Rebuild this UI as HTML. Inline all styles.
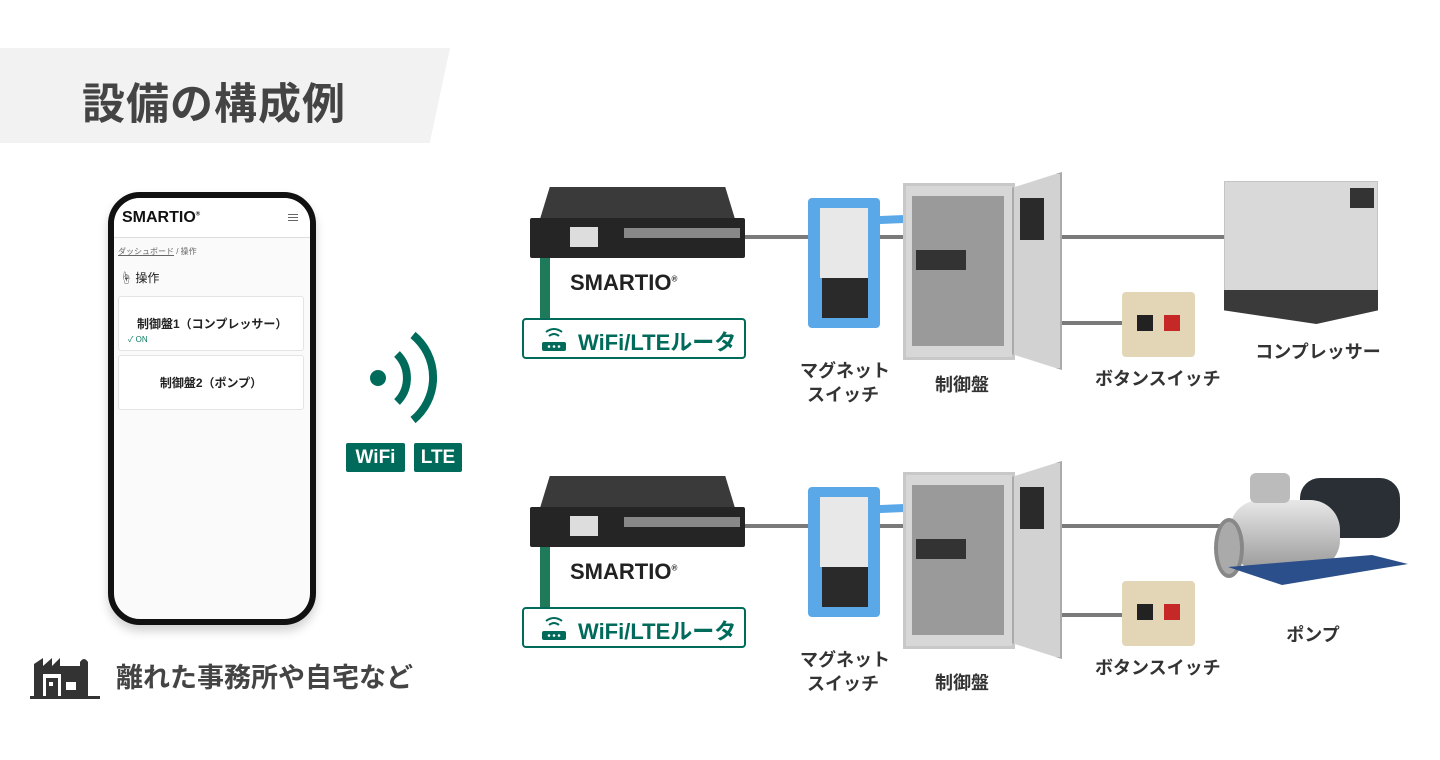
<!DOCTYPE html>
<html><head><meta charset="utf-8"><style>
*{margin:0;padding:0;box-sizing:border-box}
body{width:1440px;height:760px;background:#fff;position:relative;overflow:hidden;font-family:"Liberation Sans","Noto Sans CJK JP",sans-serif}
.a{position:absolute}
.lbl{position:absolute;font-weight:bold;font-size:18px;color:#333;text-align:center;white-space:nowrap;line-height:24px}
.g{background:#7a7a7a;height:4px;position:absolute}
.row{position:absolute;left:0;top:0;width:1440px;height:380px}
</style></head><body>
<div class="a" style="left:0;top:48px;width:450px;height:95px;background:#f2f2f2;clip-path:polygon(0 0,100% 0,95.5% 100%,0 100%)"></div>
<div class="a" style="left:82px;top:70px;font-size:43px;font-weight:bold;color:#444;letter-spacing:1px">設備の構成例</div>

<!-- phone -->
<div class="a" style="left:108px;top:192px;width:208px;height:433px;border:6px solid #111;border-radius:32px;background:#fafafa;box-shadow:0 6px 10px rgba(0,0,0,.18);overflow:hidden">
 <div style="background:#fff;height:40px;border-bottom:1px solid #ddd;position:relative">
  <div class="a" style="left:8px;top:11px;font-weight:900;font-size:16px;color:#111">SMARTIO<sup style="font-size:6px">®</sup></div>
  <div class="a" style="right:12px;top:16px;width:10px;height:7px;border-top:1px solid #666;border-bottom:1px solid #666"></div>
  <div class="a" style="right:12px;top:19px;width:10px;height:1px;background:#666"></div>
 </div>
 <div class="a" style="left:4px;top:48px;font-size:8px;color:#666"><u>ダッシュボード</u> / 操作</div>
 <div class="a" style="left:6px;top:71px;font-size:12px;color:#222">☝ 操作</div>
 <div class="a" style="left:4px;top:98px;width:186px;height:55px;background:#fff;border:1px solid #e4e4e4;border-radius:3px">
  <div class="a" style="left:18px;top:18px;font-size:12px;font-weight:bold;color:#222;white-space:nowrap">制御盤1（コンプレッサー）</div>
  <div class="a" style="left:9px;top:37px;font-size:8px;color:#0a7a60">✓ ON</div>
 </div>
 <div class="a" style="left:4px;top:157px;width:186px;height:55px;background:#fff;border:1px solid #e4e4e4;border-radius:3px">
  <div style="text-align:center;margin-top:18px;font-size:12px;font-weight:bold;color:#222">制御盤2（ポンプ）</div>
 </div>
</div>

<!-- wifi -->
<svg class="a" style="left:360px;top:330px" width="90" height="100">
 <circle cx="18" cy="48" r="8" fill="#006b5a"/>
 <path d="M37 24 A34 34 0 0 1 37 72" stroke="#006b5a" stroke-width="8" fill="none"/>
 <path d="M53 5 A55 55 0 0 1 53 90" stroke="#006b5a" stroke-width="8" fill="none"/>
</svg>
<div class="a" style="left:346px;top:443px;width:59px;height:29px;background:#006b5a;color:#fff;font-weight:bold;font-size:19px;text-align:center;line-height:29px;border-radius:2px">WiFi</div>
<div class="a" style="left:414px;top:443px;width:48px;height:29px;background:#006b5a;color:#fff;font-weight:bold;font-size:19px;text-align:center;line-height:29px;border-radius:2px">LTE</div>

<!-- factory -->
<svg class="a" style="left:30px;top:652px" width="70" height="48">
 <path d="M4 44 V12 L13 6 V14 L22 6 V14 L30 6 V14 H50 V10 Q54 4 58 10 V44 Z" fill="#333"/>
 <rect x="13" y="22" width="18" height="22" fill="#fff"/><rect x="16" y="26" width="12" height="18" fill="#333"/><rect x="19" y="30" width="4" height="4" fill="#fff"/>
 <rect x="36" y="30" width="10" height="8" fill="#fff"/>
 <rect x="0" y="44" width="70" height="3" fill="#333"/>
</svg>
<div class="a" style="left:116px;top:656px;font-size:27px;font-weight:bold;color:#444">離れた事務所や自宅など</div>

<!-- row template -->
<div class="row" style="top:0">
 <div class="g" style="left:740px;top:235px;width:170px"></div>
 <div class="g" style="left:1060px;top:235px;width:165px"></div>
 <div class="g" style="left:1060px;top:321px;width:62px"></div>
 <div class="a" style="left:540px;top:187px;width:195px;height:32px;background:#3a3a3a;clip-path:polygon(5% 0,95% 0,100% 100%,0 100%)"></div>
 <div class="a" style="left:530px;top:218px;width:215px;height:40px;background:#252525;border-radius:2px"></div>
 <div class="a" style="left:570px;top:227px;width:28px;height:20px;background:#ddd"></div>
 <div class="a" style="left:624px;top:228px;width:116px;height:10px;background:#888"></div>
 <div class="a" style="left:540px;top:258px;width:10px;height:60px;background:#1f7a5a"></div>
 <div class="a" style="left:570px;top:270px;font-size:22px;font-weight:900;color:#222">SMARTIO<sup style="font-size:8px">®</sup></div>
 <div class="a" style="left:522px;top:318px;width:224px;height:41px;border:2px solid #006b5a;border-radius:4px;background:#fff">
  <svg class="a" style="left:14px;top:4px" width="32" height="30"><path d="M8 8 Q16 2 24 8 M11 12 Q16 8 21 12" stroke="#006b5a" stroke-width="2" fill="none"/><rect x="4" y="18" width="24" height="9" rx="2" fill="#006b5a"/><circle cx="11" cy="22.5" r="1.3" fill="#fff"/><circle cx="16" cy="22.5" r="1.3" fill="#fff"/><circle cx="21" cy="22.5" r="1.3" fill="#fff"/></svg>
  <div class="a" style="left:54px;top:5px;font-size:22px;font-weight:bold;color:#006b5a;white-space:nowrap">WiFi/LTEルータ</div>
 </div>
 <div class="a" style="left:808px;top:198px;width:72px;height:130px;background:#5aa8e8;border-radius:4px"></div>
 <div class="a" style="left:820px;top:208px;width:48px;height:70px;background:#e8e8e8"></div>
 <div class="a" style="left:822px;top:278px;width:46px;height:40px;background:#2a2a2a"></div>
 <div class="a" style="left:880px;top:210px;width:50px;height:20px;background:#5aa8e8;clip-path:polygon(0 30%,100% 20%,100% 60%,0 70%)"></div>
 <div class="a" style="left:903px;top:183px;width:112px;height:177px;background:#d7d7d7;border:3px solid #c8c8c8"></div>
 <div class="a" style="left:912px;top:196px;width:92px;height:150px;background:#9a9a9a"></div>
 <div class="a" style="left:916px;top:250px;width:50px;height:20px;background:#333"></div>
 <div class="a" style="left:1012px;top:172px;width:50px;height:198px;background:#d2d2d2;border:2px solid #aaa;clip-path:polygon(0 8%,100% 0,100% 100%,0 92%)"></div>
 <div class="a" style="left:1020px;top:198px;width:24px;height:42px;background:#2a2a2a"></div>
 <div class="a" style="left:1122px;top:292px;width:73px;height:65px;background:#e3d6b6;border-radius:4px"></div>
 <div class="a" style="left:1137px;top:315px;width:16px;height:16px;background:#222"></div>
 <div class="a" style="left:1164px;top:315px;width:16px;height:16px;background:#c62828"></div>
 <div class="lbl" style="left:800px;top:359px;width:86px">マグネット<br>スイッチ</div>
 <div class="lbl" style="left:920px;top:373px;width:84px">制御盤</div>
 <div class="lbl" style="left:1095px;top:367px;width:124px">ボタンスイッチ</div>
</div>
<div class="row" style="top:289px">
 <div class="g" style="left:740px;top:235px;width:170px"></div>
 <div class="g" style="left:1060px;top:235px;width:160px"></div>
 <div class="g" style="left:1060px;top:324px;width:62px"></div>
 <div class="a" style="left:540px;top:187px;width:195px;height:32px;background:#3a3a3a;clip-path:polygon(5% 0,95% 0,100% 100%,0 100%)"></div>
 <div class="a" style="left:530px;top:218px;width:215px;height:40px;background:#252525;border-radius:2px"></div>
 <div class="a" style="left:570px;top:227px;width:28px;height:20px;background:#ddd"></div>
 <div class="a" style="left:624px;top:228px;width:116px;height:10px;background:#888"></div>
 <div class="a" style="left:540px;top:258px;width:10px;height:60px;background:#1f7a5a"></div>
 <div class="a" style="left:570px;top:270px;font-size:22px;font-weight:900;color:#222">SMARTIO<sup style="font-size:8px">®</sup></div>
 <div class="a" style="left:522px;top:318px;width:224px;height:41px;border:2px solid #006b5a;border-radius:4px;background:#fff">
  <svg class="a" style="left:14px;top:4px" width="32" height="30"><path d="M8 8 Q16 2 24 8 M11 12 Q16 8 21 12" stroke="#006b5a" stroke-width="2" fill="none"/><rect x="4" y="18" width="24" height="9" rx="2" fill="#006b5a"/><circle cx="11" cy="22.5" r="1.3" fill="#fff"/><circle cx="16" cy="22.5" r="1.3" fill="#fff"/><circle cx="21" cy="22.5" r="1.3" fill="#fff"/></svg>
  <div class="a" style="left:54px;top:5px;font-size:22px;font-weight:bold;color:#006b5a;white-space:nowrap">WiFi/LTEルータ</div>
 </div>
 <div class="a" style="left:808px;top:198px;width:72px;height:130px;background:#5aa8e8;border-radius:4px"></div>
 <div class="a" style="left:820px;top:208px;width:48px;height:70px;background:#e8e8e8"></div>
 <div class="a" style="left:822px;top:278px;width:46px;height:40px;background:#2a2a2a"></div>
 <div class="a" style="left:880px;top:210px;width:50px;height:20px;background:#5aa8e8;clip-path:polygon(0 30%,100% 20%,100% 60%,0 70%)"></div>
 <div class="a" style="left:903px;top:183px;width:112px;height:177px;background:#d7d7d7;border:3px solid #c8c8c8"></div>
 <div class="a" style="left:912px;top:196px;width:92px;height:150px;background:#9a9a9a"></div>
 <div class="a" style="left:916px;top:250px;width:50px;height:20px;background:#333"></div>
 <div class="a" style="left:1012px;top:172px;width:50px;height:198px;background:#d2d2d2;border:2px solid #aaa;clip-path:polygon(0 8%,100% 0,100% 100%,0 92%)"></div>
 <div class="a" style="left:1020px;top:198px;width:24px;height:42px;background:#2a2a2a"></div>
 <div class="a" style="left:1122px;top:292px;width:73px;height:65px;background:#e3d6b6;border-radius:4px"></div>
 <div class="a" style="left:1137px;top:315px;width:16px;height:16px;background:#222"></div>
 <div class="a" style="left:1164px;top:315px;width:16px;height:16px;background:#c62828"></div>
 <div class="lbl" style="left:800px;top:359px;width:86px">マグネット<br>スイッチ</div>
 <div class="lbl" style="left:920px;top:382px;width:84px">制御盤</div>
 <div class="lbl" style="left:1095px;top:367px;width:124px">ボタンスイッチ</div>
</div>

<!-- compressor -->
<div class="a" style="left:1224px;top:181px;width:154px;height:120px;background:#d9d9d9;border:1px solid #c4c4c4"></div>
<div class="a" style="left:1224px;top:290px;width:154px;height:34px;background:#3a3a3a;clip-path:polygon(0 0,100% 0,100% 60%,60% 100%,0 60%)"></div>
<div class="a" style="left:1350px;top:188px;width:24px;height:20px;background:#333"></div>
<div class="lbl" style="left:1250px;top:340px;width:136px">コンプレッサー</div>
<!-- pump -->
<div class="a" style="left:1300px;top:478px;width:100px;height:60px;background:#2a2f36;border-radius:20px"></div>
<div class="a" style="left:1230px;top:500px;width:110px;height:70px;background:linear-gradient(#e8e8e8,#9a9a9a);border-radius:30px"></div>
<div class="a" style="left:1214px;top:518px;width:30px;height:60px;background:#aaa;border-radius:50%;border:4px solid #888"></div>
<div class="a" style="left:1250px;top:473px;width:40px;height:30px;background:#bbb;border-radius:6px"></div>
<div class="a" style="left:1228px;top:555px;width:180px;height:30px;background:#2b4f8a;clip-path:polygon(0 40%,80% 0,100% 30%,30% 100%)"></div>
<div class="lbl" style="left:1270px;top:623px;width:86px">ポンプ</div>
</body></html>
